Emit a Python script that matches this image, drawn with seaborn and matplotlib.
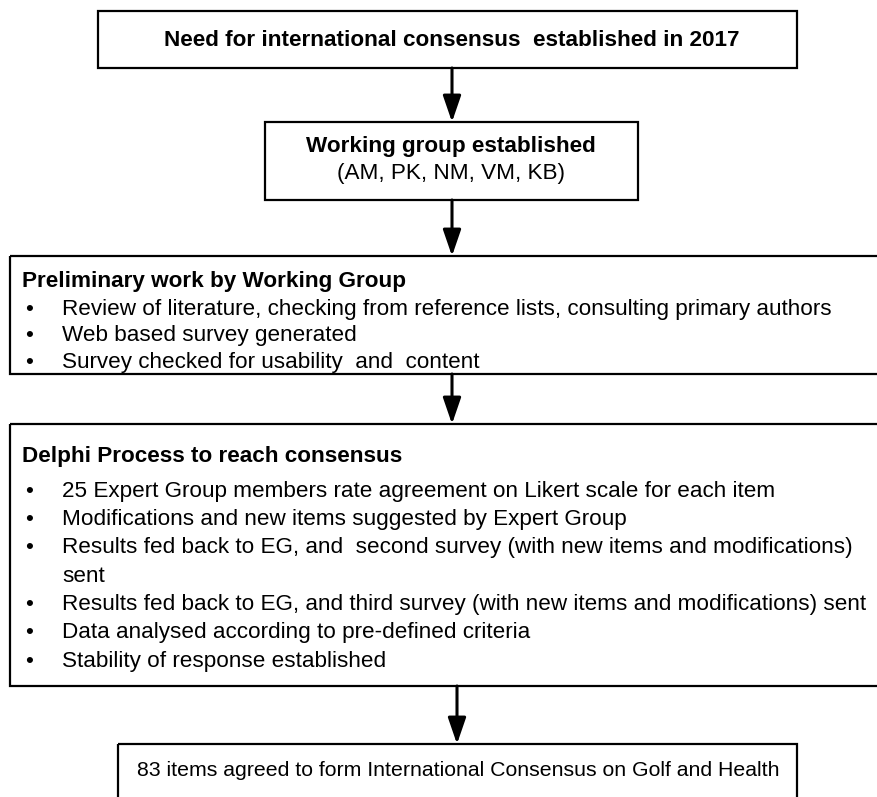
import matplotlib
matplotlib.use("Agg")
import matplotlib.pyplot as plt
import seaborn as sns
from matplotlib.patches import Rectangle

sns.set_style("white")
plt.rcParams["font.family"] = ["Liberation Sans", "DejaVu Sans"]
plt.rcParams["text.color"] = "black"

# Flowchart content
step1_title = "Need for international consensus  established in 2017"
step2_title = "Working group established"
step2_sub = "(AM, PK, NM, VM, KB)"
step3_title = "Preliminary work by Working Group"
step3_items = [
    "Review of literature, checking from reference lists, consulting primary authors",
    "Web based survey generated",
    "Survey checked for usability  and  content",
]
step4_title = "Delphi Process to reach consensus"
step4_items = [
    "25 Expert Group members rate agreement on Likert scale for each item",
    "Modifications and new items suggested by Expert Group",
    "Results fed back to EG, and  second survey (with new items and modifications)\nsent",
    "Results fed back to EG, and third survey (with new items and modifications) sent",
    "Data analysed according to pre-defined criteria",
    "Stability of response established",
]
step5_title = "83 items agreed to form International Consensus on Golf and Health"

W, H = 878, 797
fig = plt.figure(figsize=(W / 100, H / 100), dpi=100)
ax = fig.add_axes([0, 0, 1, 1])
ax.set_xlim(0, W)
ax.set_ylim(H, 0)
ax.axis("off")


def box(x0, y0, x1, y1):
    ax.add_patch(Rectangle((x0, y0), x1 - x0, y1 - y0, fill=False,
                           edgecolor="black", linewidth=1.6, clip_on=False))


def arrow(x, y0, y1):
    ax.annotate("", xy=(x, y1), xytext=(x, y0),
                arrowprops=dict(arrowstyle="-|>,head_width=0.55,head_length=1.6",
                                color="black", lw=2.2, shrinkA=0, shrinkB=0))


def bullets(items, y, lh):
    for item in items:
        ax.text(25, y, "\u2022", ha="left", va="center", fontsize=fs)
        for ln in item.split("\n"):
            ax.text(62, y, ln, ha="left", va="center", fontsize=fs)
            y += lh


fs = 16.2

# box 1
box(98, 11, 797, 68)
ax.text(452, 40, step1_title, ha="center", va="center", fontsize=fs, fontweight="bold")
arrow(452, 68, 122)

# box 2
box(265, 122, 638, 200)
ax.text(451, 146, step2_title, ha="center", va="center", fontsize=fs, fontweight="bold")
ax.text(451, 173, step2_sub, ha="center", va="center", fontsize=fs)
arrow(452, 200, 256)

# box 3
box(10, 256, 900, 374)
ax.text(22, 281, step3_title, ha="left", va="center", fontsize=fs, fontweight="bold")
bullets(step3_items, 309, 26.8)
arrow(452, 374, 424)

# box 4
box(10, 424, 900, 686)
ax.text(22, 456, step4_title, ha="left", va="center", fontsize=fs, fontweight="bold")
bullets(step4_items, 491, 28.4)
arrow(457, 686, 744)

# box 5
box(118, 744, 797, 830)
ax.text(458, 770, step5_title, ha="center", va="center", fontsize=15.3)

fig.savefig("out.png", dpi=100)
